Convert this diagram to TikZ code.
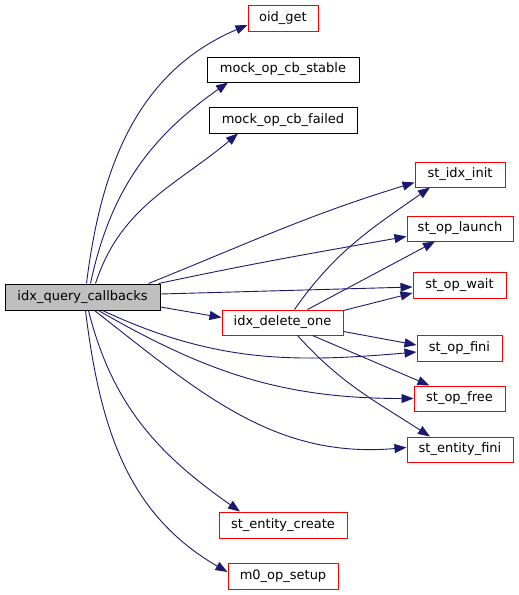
\documentclass[tikz,border=0pt]{standalone}
\usepackage{fontspec}
\setmainfont{DejaVu Sans}
\usetikzlibrary{arrows.meta, positioning, calc}
\definecolor{edgeblue}{RGB}{25, 25, 112}
\definecolor{rootgray}{RGB}{191, 191, 191}
\definecolor{linkred}{RGB}{255, 0, 0}

\tikzset{
  fnbox/.style={draw=linkred, line width=1pt, fill=white, inner sep=0pt,
                minimum height=25pt, font=\fontsize{13}{15}\selectfont},
  rootbox/.style={fnbox, draw=black, fill=rootgray},
  plainbox/.style={fnbox, draw=black},
  callarrow/.style={draw=edgeblue, line width=0.9pt,
                    -{Triangle[length=12pt,width=9pt,fill=edgeblue]}}
}

\begin{document}
\begin{tikzpicture}[x=1pt,y=-1pt]
  \useasboundingbox (0,0) rectangle (519,595);

  % caller
  \node[rootbox, minimum width=155pt, minimum height=26pt] (main) at (82.5,297) {idx\_query\_callbacks};

  % callees
  \node[fnbox, minimum width=70pt, minimum height=26pt] (oid) at (283,18) {oid\_get};
  \node[plainbox, minimum width=152pt] (stable) at (283,69.5) {mock\_op\_cb\_stable};
  \node[plainbox, minimum width=148pt, minimum height=26pt] (failed) at (283,120) {mock\_op\_cb\_failed};
  \node[fnbox, minimum width=90pt] (init) at (460,174.5) {st\_idx\_init};
  \node[fnbox, minimum width=106pt] (launch) at (460,228.5) {st\_op\_launch};
  \node[fnbox, minimum width=93pt, minimum height=26pt] (wait) at (459.5,285) {st\_op\_wait};
  \node[fnbox, minimum width=121pt] (del) at (282.5,322.5) {idx\_delete\_one};
  \node[fnbox, minimum width=85pt, minimum height=26pt] (fini) at (459.5,348) {st\_op\_fini};
  \node[fnbox, minimum width=91pt] (free) at (459.5,398.5) {st\_op\_free};
  \node[fnbox, minimum width=106pt] (efini) at (460,449.5) {st\_entity\_fini};
  \node[fnbox, minimum width=128pt, minimum height=26pt] (create) at (283,525) {st\_entity\_create};
  \node[fnbox, minimum width=110pt, minimum height=26pt] (setup) at (283,576) {m0\_op\_setup};

  % calls from idx_query_callbacks
  \draw[callarrow] ([xshift=4pt]main.north) to[out=83,in=203] ([yshift=-7pt]oid.west);
  \draw[callarrow] ([xshift=8pt]main.north) to[out=78,in=215] ([xshift=-55pt]stable.south);
  \draw[callarrow] ([xshift=13pt]main.north) to[out=72,in=220] ([xshift=-45pt]failed.south);
  \draw[callarrow] ([xshift=66pt]main.north) to[out=22,in=197] ([yshift=-8pt]init.west);
  \draw[callarrow] ([xshift=-2pt]main.north east) to[out=12,in=190] ([yshift=-8pt]launch.west);
  \draw[callarrow] ([yshift=3pt]main.east) -- ([yshift=-2pt]wait.west);
  \draw[callarrow] ([yshift=-10pt]main.east) -- ([yshift=5pt]del.west);
  \draw[callarrow] ([xshift=20pt]main.south) to[out=-25,in=185] ([yshift=-4pt]fini.west);
  \draw[callarrow] ([xshift=16pt]main.south) to[out=-30,in=180] ([yshift=0pt]free.west);
  \draw[callarrow] ([xshift=12pt]main.south) to[out=-38,in=185] ([yshift=2pt]efini.west);
  \draw[callarrow] ([xshift=6pt]main.south) to[out=-76,in=145] ([xshift=-43pt]create.north);
  \draw[callarrow] ([xshift=3pt]main.south) to[out=-83,in=150] ([yshift=4pt]setup.west);

  % calls from idx_delete_one
  \draw[callarrow] ([xshift=12pt]del.north) to[out=55,in=215] ([xshift=-30pt]init.south);
  \draw[callarrow] ([xshift=25pt]del.north) -- ([xshift=-25pt]launch.south);
  \draw[callarrow] ([yshift=-1pt]del.north east) -- ([yshift=-8pt]wait.west);
  \draw[callarrow] ([yshift=-9pt]del.east) -- ([yshift=3pt]fini.west);
  \draw[callarrow] ([xshift=30pt]del.south) -- ([xshift=-30pt]free.north);
  \draw[callarrow] ([xshift=15pt]del.south) to[out=-48,in=147] ([xshift=-30pt]efini.north);
\end{tikzpicture}
\end{document}
